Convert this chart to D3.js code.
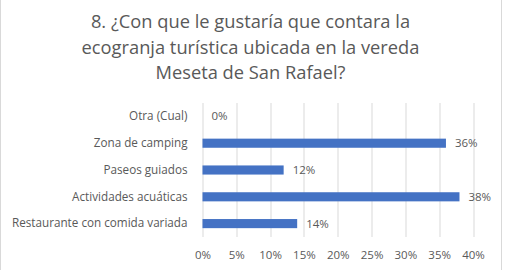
<!DOCTYPE html>
<html>
<head>
<meta charset="utf-8">
<script src="https://cdn.jsdelivr.net/npm/d3@7"></script>
<style>
    body { margin: 0; background: #fff; }
    svg { display: block; }
    text { font-family: "Open Sans", sans-serif; }
</style>
</head>
<body>
<div id="chart-container"></div>
<script>
const titleLines = [
    '8. ¿Con que le gustaría que contara la',
    'ecogranja turística ubicada en la vereda',
    'Meseta de San Rafael?'
]
const categories = [
    'Otra (Cual)',
    'Zona de camping',
    'Paseos guiados',
    'Actividades acuáticas',
    'Restaurante con comida variada'
]
const values = [0, 36, 12, 38, 14]
const xTicks = [0, 5, 10, 15, 20, 25, 30, 35, 40]

const width = 506
const height = 270
const margin = { top: 103, right: 33, bottom: 33, left: 202.5 }
const innerWidth = width - margin.left - margin.right
const innerHeight = height - margin.top - margin.bottom

const titleSize = 18.3
const labelSize = 11.7
const tickSize = 11.5

const svg = d3.select('#chart-container')
    .append('svg')
    .attr('id', 'chart-svg')
    .attr('width', width)
    .attr('height', height)

// outer frame (only the sides show in the picture)
svg.append('line')
    .attr('x1', 0.5).attr('x2', 0.5).attr('y1', 0).attr('y2', height)
    .attr('stroke', '#d9d9d9')
svg.append('line')
    .attr('x1', 501.5).attr('x2', 501.5).attr('y1', 0).attr('y2', height)
    .attr('stroke', '#d9d9d9')

svg.append('g')
    .selectAll('text')
    .data(titleLines)
    .join('text')
    .attr('x', 250.5)
    .attr('y', (d, i) => 28 + i * 25.5)
    .attr('text-anchor', 'middle')
    .attr('fill', '#595959')
    .style('font-size', `${titleSize}px`)
    .text(d => d)

const chart = svg.append('g')
    .attr('transform', `translate(${margin.left},${margin.top})`)

const x = d3.scaleLinear()
    .domain([0, 40])
    .range([0, innerWidth])

const y = d3.scaleBand()
    .domain(categories)
    .range([0, innerHeight])
    .paddingInner(0.66)
    .paddingOuter(0.33)

chart.append('g')
    .attr('class', 'grid')
    .selectAll('line')
    .data(xTicks)
    .join('line')
    .attr('x1', d => Math.round(x(d)) + 0.5)
    .attr('x2', d => Math.round(x(d)) + 0.5)
    .attr('y1', 0)
    .attr('y2', innerHeight)
    .attr('stroke', '#d9d9d9')
    .attr('stroke-width', 1)

const xAxis = chart.append('g')
    .attr('transform', `translate(0,${innerHeight})`)
    .call(d3.axisBottom(x).tickValues(xTicks).tickFormat(d => `${d}%`).tickSize(0).tickPadding(14))
xAxis.select('.domain').remove()
xAxis.selectAll('text')
    .attr('fill', '#595959')
    .style('font-size', `${tickSize}px`)
    .style('font-family', '"Open Sans", sans-serif')

const yAxis = chart.append('g')
    .call(d3.axisLeft(y).tickSize(0).tickPadding(15))
yAxis.select('.domain').remove()
yAxis.selectAll('text')
    .attr('fill', '#595959')
    .style('font-size', `${labelSize}px`)
    .style('font-family', '"Open Sans", sans-serif')

chart.append('g')
    .selectAll('rect')
    .data(values)
    .join('rect')
    .attr('x', 0)
    .attr('y', (d, i) => y(categories[i]))
    .attr('width', d => x(d))
    .attr('height', y.bandwidth())
    .attr('fill', '#4472c4')

chart.append('g')
    .selectAll('text')
    .data(values)
    .join('text')
    .attr('x', d => x(d) + 9)
    .attr('y', (d, i) => y(categories[i]) + y.bandwidth() / 2)
    .attr('dy', '0.35em')
    .attr('fill', '#595959')
    .style('font-size', `${tickSize}px`)
    .text(d => `${d}%`)
</script>
</body>
</html>
